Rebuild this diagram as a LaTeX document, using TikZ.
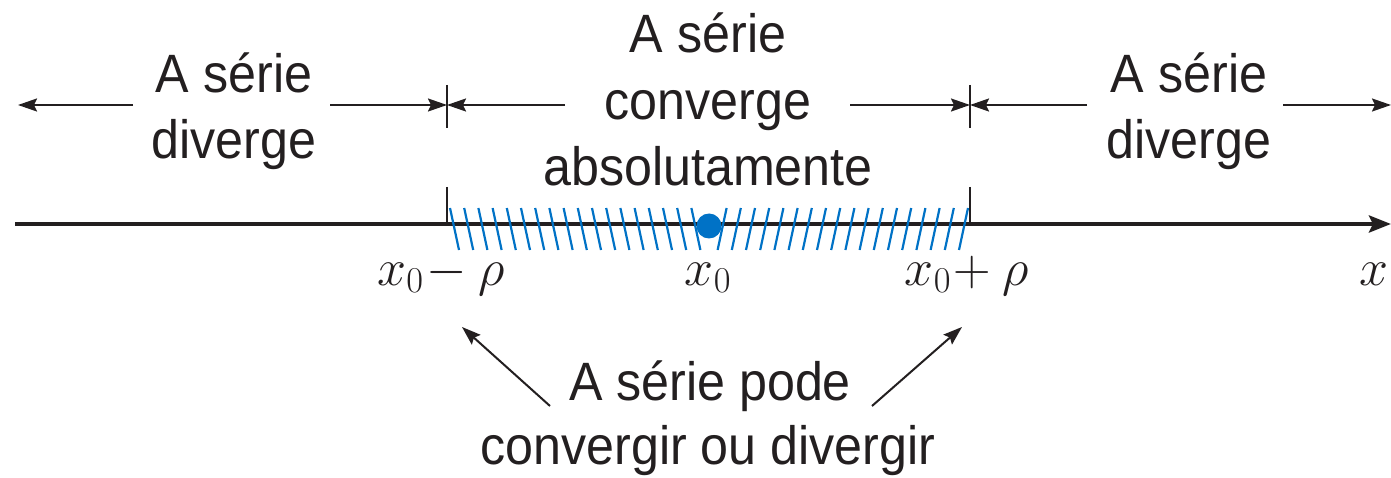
\RequirePackage{fix-cm}
\documentclass[tikz,border=0pt]{standalone}
\usepackage{fontspec}
\setmainfont{Liberation Sans}[FakeStretch=0.93]
\usetikzlibrary{arrows.meta}
\definecolor{hatchblue}{RGB}{0,114,198}
\definecolor{ink}{RGB}{35,31,32}
\begin{document}
\begin{tikzpicture}[x=1pt,y=-1pt,
  lbl/.style={font=\fontsize{54}{66}\selectfont, inner sep=0pt, anchor=base, text=ink},
  mlbl/.style={font=\fontsize{52}{60}\selectfont, inner sep=0pt, anchor=base, text=ink},
  dimarrow/.style={draw=ink, line width=2pt, -{Stealth[length=19pt,width=13pt,inset=3pt]}},
  ticksty/.style={draw=ink, line width=2pt},
  hatch/.style={draw=hatchblue, line width=2.2pt}
]
\useasboundingbox (0,0) rectangle (1391,478);
\clip (0,0) rectangle (1391,478);

% axis
\coordinate (axL) at (15,224);
\coordinate (axR) at (1391,224);
\draw[ink, line width=4pt, -{Stealth[length=22pt,width=17pt,inset=4pt]}] (axL) -- (axR);

% hatching
\foreach \i in {0,...,17}{
  \draw[hatch] ({450+14.2*\i},208) -- ({459+14.2*\i},250);
  \draw[hatch] ({968-14.2*\i},208) -- ({959-14.2*\i},250);
}
\fill[hatchblue] (709,226) circle (12.5);

% ticks on axis
\coordinate (ta1) at (447,187); \coordinate (ta2) at (447,224);
\coordinate (tb1) at (970,187); \coordinate (tb2) at (970,224);
\draw[ticksty] (ta1) -- (ta2);
\draw[ticksty] (tb1) -- (tb2);

% upper ticks
\coordinate (tl) at (447,105); \coordinate (tr) at (970,105);
\draw[ticksty] (447,85) -- (447,128);
\draw[ticksty] (970,85) -- (970,128);

% texts top
\node[lbl] (l1) at (234,93) {A série};
\node[lbl] (l2) at (234,159) {diverge};
\node[lbl] (m1) at (708,53) {A série};
\node[lbl] (m2) at (708,120) {converge};
\node[lbl] (m3) at (708,186) {absolutamente};
\node[lbl] (r1) at (1189,93) {A série};
\node[lbl] (r2) at (1189,159) {diverge};

% arrows top
\coordinate (a1s) at (133,105); \coordinate (a1e) at (18,105);
\coordinate (a2s) at (330,105);
\coordinate (a3s) at (565,105);
\coordinate (a4s) at (850,105);
\coordinate (a5s) at (1087,105);
\coordinate (a6s) at (1283,105); \coordinate (a6e) at (1391,105);
\draw[dimarrow] (a1s) -- (a1e);
\draw[dimarrow] (a2s) -- (tl);
\draw[dimarrow] (a3s) -- (tl);
\draw[dimarrow] (a4s) -- (tr);
\draw[dimarrow] (a5s) -- (tr);
\draw[dimarrow] (a6s) -- (a6e);

% math labels
\node[mlbl] (xm) at (441,285) {$x_0\!-\rho$};
\node[mlbl] (x0) at (708,285) {$x_0$};
\node[mlbl] (xp) at (967,285) {$x_0\!+\rho$};
\node[mlbl, anchor=base east] (xx) at (1389,285) {$x$};

% bottom text
\node[lbl] (b1) at (710,400) {A série pode};
\node[lbl] (b2) at (708,464) {convergir ou divergir};

% bottom arrows
\coordinate (ba1) at (550,406); \coordinate (bt1) at (462,327);
\coordinate (ba2) at (872,406); \coordinate (bt2) at (962,327);
\draw[dimarrow] (ba1) -- (bt1);
\draw[dimarrow] (ba2) -- (bt2);
\end{tikzpicture}
\end{document}
